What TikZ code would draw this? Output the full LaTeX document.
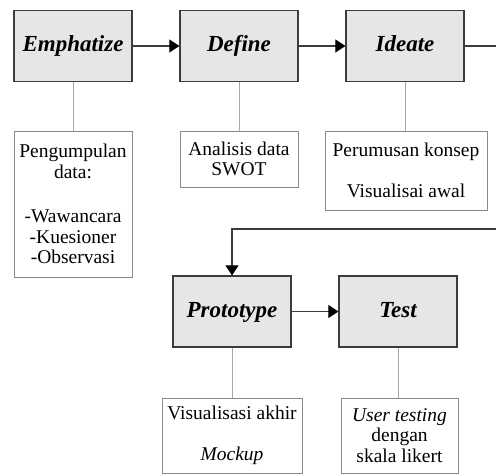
\documentclass[tikz,border=0pt]{standalone}
\usepackage{fontspec}
\setmainfont{Liberation Serif}
\usetikzlibrary{arrows.meta}
\definecolor{boxfill}{HTML}{E6E6E6}
\definecolor{boxline}{HTML}{3C3C3C}
\definecolor{detline}{HTML}{8A8A8A}
\definecolor{connline}{HTML}{A8A8A8}
\tikzset{
  stage/.style={draw=boxline, line width=1.2pt, fill=boxfill, minimum width=118pt, minimum height=71pt, inner sep=0pt, text height=17pt, text depth=5pt, font=\fontsize{23}{26}\selectfont\bfseries\itshape},
  detail/.style={draw=detline, line width=0.8pt, fill=white, inner sep=0pt, align=center, font=\fontsize{19.5}{20.5}\selectfont},
  conn/.style={draw=connline, line width=0.8pt},
  flow/.style={draw=boxline, line width=1.1pt},
  flowarrow/.style={flow, -{Triangle[length=10pt,width=13pt,fill=black,color=black]}}
}
\begin{document}
\begin{tikzpicture}[x=1pt,y=-1pt]
\useasboundingbox (0,0) rectangle (496,476);
% stages
\node[stage] (E) at (73,46) {Emphatize};
\node[stage] (D) at (239,46) {Define};
\node[stage] (I) at (405,46) {Ideate};
\node[stage] (P) at (232,311.5) {Prototype};
\node[stage] (T) at (398,311.5) {Test};
% details
\node[detail, minimum width=118pt, minimum height=146pt] (Ed) at (73,204)
  {Pengumpulan\\data:\\[24pt]-Wawancara\\-Kuesioner\\-Observasi};
\node[detail, minimum width=118pt, minimum height=56pt] (Dd) at (239,159)
  {Analisis data\\SWOT};
\node[detail, minimum width=162pt, minimum height=79pt] (Id) at (406,170.5)
  {Perumusan konsep\\[21pt]Visualisai awal};
\node[detail, minimum width=140pt, minimum height=75pt] (Pd) at (232,435.5)
  {Visualisasi akhir\\[21pt]\textit{Mockup}};
\node[detail, minimum width=117pt, minimum height=75pt] (Td) at (399.5,435.5)
  {\textit{User testing}\\dengan\\skala likert};
% connectors to details
\draw[conn] (E.south) -- (Ed.north);
\draw[conn] (D.south) -- (Dd.north);
\draw[conn] (I.south) -- (I.south |- Id.north);
\draw[conn] (P.south) -- (Pd.north);
\draw[conn] (T.south) -- (T.south |- Td.north);
% flow
\coordinate (r1) at (496,46);
\coordinate (r2) at (496,229);
\coordinate (l2) at (232,229);
\draw[flowarrow] (E.east) -- (D.west);
\draw[flowarrow] (D.east) -- (I.west);
\draw[flow] (I.east) -- (r1);
\draw[flowarrow] (r2) -- (l2) -- (P.north);
\draw[flowarrow] (P.east) -- (T.west);
\end{tikzpicture}
\end{document}
